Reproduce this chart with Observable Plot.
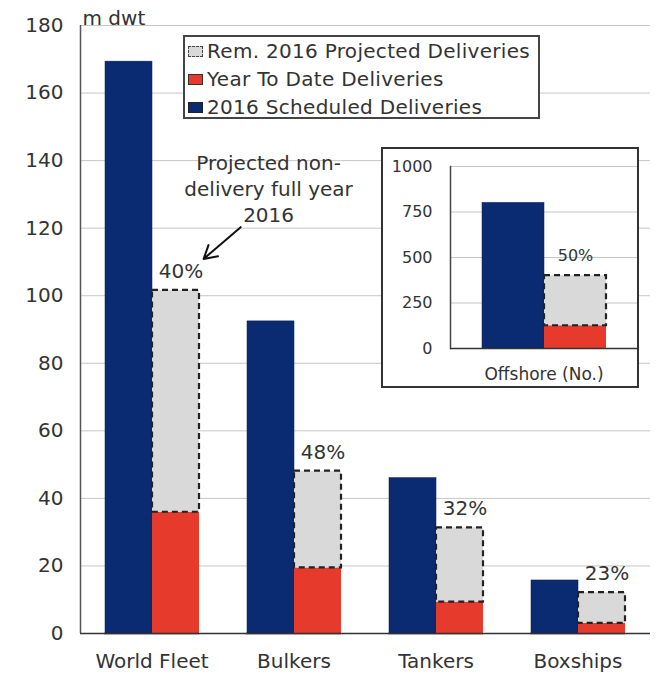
<!DOCTYPE html>
<html>
<head>
<meta charset="utf-8">
<script src="https://cdn.jsdelivr.net/npm/d3@7"></script>
<script src="https://cdn.jsdelivr.net/npm/@observablehq/plot@0.6"></script>
<style>
  body { margin: 0; background: #fff; font-family: "DejaVu Sans", sans-serif; color: #333; }
  #chart { position: relative; width: 658px; height: 674px; overflow: hidden; background: #fff; }
  #chart > svg { position: absolute; left: 0; top: 0; }
  .legend {
    position: absolute; left: 183px; top: 35px; width: 357px; height: 84px;
    box-sizing: border-box; border: 2px solid #444; background: #fff;
    font-size: 20px; letter-spacing: 0.3px; color: #333;
  }
  .legend .row { height: 28px; line-height: 28px; display: flex; align-items: center; white-space: nowrap; }
  .legend .sw { width: 15px; height: 11px; margin: 0 4px 0 3px; box-sizing: border-box; flex: none; }
  .inset {
    position: absolute; left: 381px; top: 147px; width: 258px; height: 241px;
    box-sizing: border-box; border: 2px solid #333; background: #fff;
  }
  .inset svg { display: block; }
</style>
</head>
<body>
<div id="chart"></div>
<script>
// Deliveries by fleet segment, million dwt
const categories = ["World Fleet", "Bulkers", "Tankers", "Boxships"];
const scheduled = [169.3, 92.4, 46.0, 15.7];
const yearToDate = [35.9, 19.4, 9.3, 3.0];
const nonDeliveryPct = [40, 48, 32, 23];
const yTicks = [0, 20, 40, 60, 80, 100, 120, 140, 160, 180];
const unitLabel = "m dwt";

// Offshore deliveries, number of units
const offshoreCategory = ["Offshore (No.)"];
const offshoreScheduled = [800];
const offshoreYearToDate = [125];
const offshoreNonDeliveryPct = [50];
const insetTicks = [0, 250, 500, 750, 1000];

// Legend entries
const legendLabels = ["Rem. 2016 Projected Deliveries", "Year To Date Deliveries", "2016 Scheduled Deliveries"];

// Callout (x as a fraction of the frame width, y in m dwt)
const noteText = "Projected non-\ndelivery full year\n2016";
const noteAt = { x: 0.33, y: 132 };
const noteArrow = { x1: 0.281, y1: 120.3, x2: 0.216, y2: 110.9 };

const navy = "#0a2b72", red = "#e63a2c", grey = "#d9d9d9", ink = "#333";
const font = "'DejaVu Sans', sans-serif";
const dash = { stroke: "#222", strokeWidth: 2.2, strokeDasharray: "6,4" };

// projected deliveries = scheduled less the stated non-delivery share
const rows = categories.map((cat, i) => ({
  cat,
  sched: scheduled[i],
  ytd: yearToDate[i],
  pct: nonDeliveryPct[i],
  proj: scheduled[i] * (1 - nonDeliveryPct[i] / 100)
}));
const offshoreRows = offshoreCategory.map((cat, i) => ({
  cat,
  sched: offshoreScheduled[i],
  ytd: offshoreYearToDate[i],
  pct: offshoreNonDeliveryPct[i],
  proj: offshoreScheduled[i] * (1 - offshoreNonDeliveryPct[i] / 100)
}));

const frame = { width: 658, height: 674, marginTop: 25, marginRight: 8, marginBottom: 41, marginLeft: 80 };
const chart = document.getElementById("chart");

// Background layer: grid, y axis, unit label and callout
const under = Plot.plot({
  ...frame,
  style: { fontFamily: font, fontSize: "20px", color: ink, background: "transparent", overflow: "visible" },
  x: { domain: [0, 1], axis: null },
  y: { domain: [0, 180] },
  marks: [
    Plot.ruleY(yTicks.filter(t => t > 0), { stroke: "#c6c6c6", strokeWidth: 1 }),
    Plot.axisY({ ticks: yTicks, tickSize: 0, tickPadding: 17, fontSize: 20, label: null }),
    Plot.ruleX([0], { stroke: "#555", strokeWidth: 1.5 }),
    Plot.ruleY([0], { stroke: ink, strokeWidth: 1.5 }),
    Plot.text([unitLabel], { frameAnchor: "top-left", textAnchor: "start", lineAnchor: "bottom", dx: 2, dy: -1, fontSize: 20 }),
    Plot.text([noteText], { x: noteAt.x, y: noteAt.y, text: d => d, lineHeight: 1.3, fontSize: 20 }),
    Plot.arrow([noteArrow], { x1: "x1", y1: "y1", x2: "x2", y2: "y2", stroke: "#111", strokeWidth: 2, headLength: 11 })
  ]
});
chart.appendChild(under);

// Bars: scheduled beside year-to-date + remaining projected deliveries
const over = Plot.plot({
  ...frame,
  style: { fontFamily: font, fontSize: "20px", color: ink, background: "transparent", overflow: "visible" },
  fx: { domain: categories, paddingInner: 0.33, paddingOuter: 0.16, axis: "bottom", label: null, tickSize: 0, tickPadding: 20 },
  x: { domain: ["sched", "proj"], padding: 0, axis: null },
  y: { domain: [0, 180], axis: null },
  marks: [
    Plot.barY(rows, { fx: "cat", x: () => "sched", y1: 0, y2: "sched", fill: navy, stroke: "#0a1f50", strokeWidth: 0.5 }),
    Plot.barY(rows, { fx: "cat", x: () => "proj", y1: 0, y2: "ytd", fill: red }),
    Plot.barY(rows, { fx: "cat", x: () => "proj", y1: "ytd", y2: "proj", fill: grey, ...dash }),
    Plot.ruleY([0], { stroke: ink, strokeWidth: 1.5 }),
    Plot.text(rows, { fx: "cat", x: () => "proj", y: "proj", text: d => `${d.pct}%`, dy: -19, dx: 5, fontSize: 20 })
  ]
});
chart.appendChild(over);

// Legend
const legend = document.createElement("div");
legend.className = "legend";
const swatchStyles = [
  `background:${grey};border:1.5px dashed #444;`,
  `background:${red};border:1px solid #333;`,
  `background:${navy};border:1px solid #222;`
];
legendLabels.forEach((label, i) => {
  const row = document.createElement("div");
  row.className = "row";
  const sw = document.createElement("span");
  sw.className = "sw";
  sw.style.cssText = swatchStyles[i];
  const tx = document.createElement("span");
  tx.textContent = label;
  row.appendChild(sw);
  row.appendChild(tx);
  legend.appendChild(row);
});
chart.appendChild(legend);

// Offshore inset
const insetBox = document.createElement("div");
insetBox.className = "inset";
const inset = Plot.plot({
  width: 254, height: 237, marginTop: 17, marginRight: 0, marginBottom: 38, marginLeft: 67,
  style: { fontFamily: font, fontSize: "17px", color: ink, background: "transparent", overflow: "visible" },
  fx: { domain: offshoreCategory, padding: 0, axis: "bottom", label: null, tickSize: 0, tickPadding: 19 },
  x: { domain: ["sched", "proj"], paddingInner: 0, paddingOuter: 0.5, axis: null },
  y: { domain: [0, 1000] },
  marks: [
    Plot.ruleY(insetTicks.filter(t => t > 0), { stroke: "#c6c6c6", strokeWidth: 1 }),
    Plot.axisY({ ticks: insetTicks, tickSize: 0, tickPadding: 18, tickFormat: d => String(d), fontSize: 16, label: null }),
    Plot.frame({ anchor: "left", stroke: "#444", strokeWidth: 1.5 }),
    Plot.barY(offshoreRows, { fx: "cat", x: () => "sched", y1: 0, y2: "sched", fill: navy, stroke: "#0a1f50", strokeWidth: 0.5 }),
    Plot.barY(offshoreRows, { fx: "cat", x: () => "proj", y1: 0, y2: "ytd", fill: red }),
    Plot.barY(offshoreRows, { fx: "cat", x: () => "proj", y1: "ytd", y2: "proj", fill: grey, ...dash }),
    Plot.ruleY([0], { stroke: ink, strokeWidth: 1.5 }),
    Plot.text(offshoreRows, { fx: "cat", x: () => "proj", y: "proj", text: d => `${d.pct}%`, dy: -20, fontSize: 16 })
  ]
});
insetBox.appendChild(inset);
chart.appendChild(insetBox);
</script>
</body>
</html>
